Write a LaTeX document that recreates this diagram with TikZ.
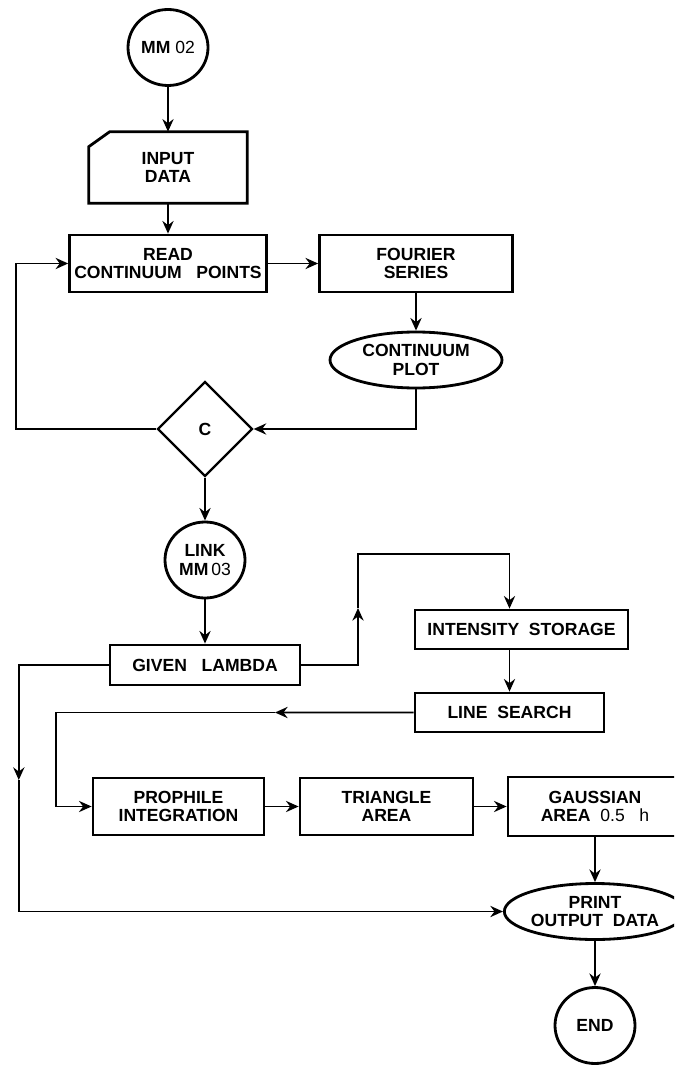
\documentclass[tikz,border=0pt]{standalone}
\usepackage{fontspec}
\setmainfont{Liberation Sans}
\usepackage{tikz}
\usetikzlibrary{shapes.geometric, arrows, arrows.meta}
\tikzstyle{terminal} = [ellipse, minimum width=2cm, minimum height=1.9cm,
                        inner sep=0pt, text centered, align=center,
                        draw=black, line width=2pt]
\tikzstyle{process}  = [rectangle, minimum height=1.425cm, text centered,
                        align=center, draw=black, line width=2pt]
\tikzstyle{card}     = [rectangle, minimum width=3.95cm, minimum height=1.775cm,
                        text centered, align=center]
\tikzstyle{decision} = [diamond, minimum width=2.375cm, minimum height=2.375cm,
                        inner sep=0pt, text centered, draw=black, line width=1.6pt]
\tikzstyle{display}  = [ellipse, minimum width=4.3cm, minimum height=1.4cm,
                        inner sep=0pt, text centered, align=center,
                        draw=black, line width=2pt]
\tikzstyle{arrow} = [line width=1.3pt,->,>={Stealth[length=9pt,width=8pt,inset=3pt]}]
\tikzstyle{line}  = [line width=1.3pt]

\begin{document}
\begin{tikzpicture}[node distance=1.0cm, font=\bfseries\fontsize{12.5}{13}\selectfont]
\path [use as bounding box, clip] (0,0) rectangle (16.85,-26.625);
\node (mm2) [terminal] at (4.2,-1.1875) {MM {\mdseries 02}};
\node (inp) [card,     below of=mm2, yshift=-2.0cm]   {INPUT\\DATA};
\node (rd)  [process,  below of=inp, yshift=-1.4cm, minimum width=4.9cm]
            {READ\\CONTINUUM\ \ \ POINTS};
\node (fou) [process,  right of=rd,  xshift=5.2cm,  minimum width=4.825cm]
            {FOURIER\\SERIES};
\node (plt) [display,  below of=fou, yshift=-1.4125cm] {CONTINUUM\\PLOT};
\node (dec) [decision, below of=rd,  xshift=0.925cm, yshift=-3.1375cm] {C};
\node (lnk) [terminal, below of=dec, yshift=-2.275cm] {LINK\\MM\,{\mdseries 03}};
\node (giv) [process,  below of=lnk, yshift=-1.625cm, minimum width=4.75cm,
             minimum height=1cm] {GIVEN\ \ \ LAMBDA};
\node (int) [process,  right of=giv, xshift=6.9125cm, yshift=0.8875cm,
             minimum width=5.325cm, minimum height=0.975cm] {INTENSITY\ \ STORAGE};
\node (lsr) [process,  below of=int, xshift=-0.3cm, yshift=-1.075cm,
             minimum width=4.725cm, minimum height=0.975cm] {LINE\ \ SEARCH};
\node (pro) [process,  below of=giv, xshift=-0.6625cm, yshift=-2.5375cm,
             minimum width=4.275cm] {PROPHILE\\INTEGRATION};
\node (tri) [process,  right of=pro, xshift=4.2cm,   minimum width=4.325cm]
            {TRIANGLE\\AREA};
\node (gau) [process,  right of=tri, xshift=4.2125cm, minimum width=4.35cm,
             minimum height=1.475cm] {GAUSSIAN\\AREA\ \ {\mdseries 0.5\ \ \ h}};
\node (pri) [display,  below of=gau, yshift=-1.625cm] {PRINT\\OUTPUT\ \ DATA};
\node (end) [terminal, below of=pri, yshift=-1.85cm] {END};

% punched card outline for the input
\draw [line width=2pt] ([xshift=0.525cm]inp.north west) -- (inp.north east)
      -- (inp.south east) -- (inp.south west)
      -- ([yshift=-0.375cm]inp.north west) -- cycle;

\coordinate (lft) at (0.4,0);
\coordinate (mk1) at (8.95,-15.2);
\coordinate (rt)  at (8.95,-13.85);
\coordinate (mk2) at (6.875,-17.8125);
\coordinate (mk3) at (0.47,-19.5);

\draw [arrow] (mm2) -- (inp);
\draw [arrow] (inp) -- (rd);
\draw [arrow] (rd)  -- (fou);
\draw [arrow] (fou) -- (plt);
\draw [arrow] (plt) |- (dec);
\draw [arrow] (dec.west) -| (lft |- rd.west) -- (rd.west);
\draw [arrow] (dec) -- (lnk);
\draw [arrow] (lnk) -- (giv);
\draw [arrow] (giv.east) -| (mk1);
\draw [arrow] (mk1) -- (rt) -| (lsr.north |- int.north);
\draw [arrow] (lsr.north |- int.south) -- (lsr.north);
\draw [arrow] (lsr.west) -- (mk2);
\draw [arrow] (mk2) -| ([xshift=-0.9cm]pro.west) -- (pro.west);
\draw [arrow] (pro) -- (tri);
\draw [arrow] (tri) -- (gau);
\draw [arrow] (gau) -- (pri);
\draw [arrow] (giv.west) -| (mk3);
\draw [arrow] (mk3) |- (pri.west);
\draw [arrow] (pri) -- (end);
\end{tikzpicture}
\end{document}
